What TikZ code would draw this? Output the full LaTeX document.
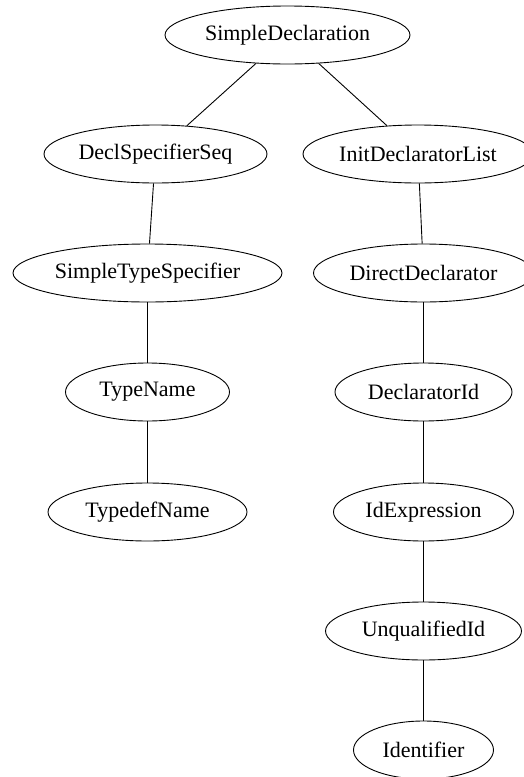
\documentclass[tikz,border=0pt]{standalone}
\usepackage{fontspec}
\setmainfont{Liberation Serif}
\usetikzlibrary{shapes.geometric}

\tikzset{
  gnode/.style={ellipse, draw=black, line width=0.9pt, inner sep=0pt,
    minimum height=58pt, font=\fontsize{22}{26}\selectfont},
  gedge/.style={draw=black, line width=0.9pt}
}

\begin{document}
\begin{tikzpicture}[x=1pt, y=-1pt]
  \clip (0,0) rectangle (524,777);

  % root
  \node[gnode, minimum width=245pt] (sd)  at (287.5, 35) {SimpleDeclaration};

  % left branch: declaration specifiers
  \node[gnode, minimum width=223pt] (dss) at (155.5, 154) {DeclSpecifierSeq};
  \node[gnode, minimum width=269pt] (sts) at (147.5, 273) {SimpleTypeSpecifier};
  \node[gnode, minimum width=164pt] (tn)  at (147.5, 392) {TypeName};
  \node[gnode, minimum width=199pt] (tdn) at (147.5, 512) {TypedefName};

  % right branch: declarators
  \node[gnode, minimum width=230pt] (idl) at (418,   154) {InitDeclaratorList};
  \node[gnode, minimum width=220pt] (dd)  at (423.5, 273) {DirectDeclarator};
  \node[gnode, minimum width=177pt] (did) at (423.5, 392) {DeclaratorId};
  \node[gnode, minimum width=180pt] (ide) at (423.5, 512) {IdExpression};
  \node[gnode, minimum width=196pt] (uid) at (423.5, 631) {UnqualifiedId};
  \node[gnode, minimum width=140pt] (idf) at (423.5, 750) {Identifier};

  % tree edges
  \draw[gedge] (sd) -- (dss);
  \draw[gedge] (sd) -- (idl);
  \draw[gedge] (dss) -- (sts);
  \draw[gedge] (sts) -- (tn);
  \draw[gedge] (tn) -- (tdn);
  \draw[gedge] (idl) -- (dd);
  \draw[gedge] (dd) -- (did);
  \draw[gedge] (did) -- (ide);
  \draw[gedge] (ide) -- (uid);
  \draw[gedge] (uid) -- (idf);
\end{tikzpicture}
\end{document}
